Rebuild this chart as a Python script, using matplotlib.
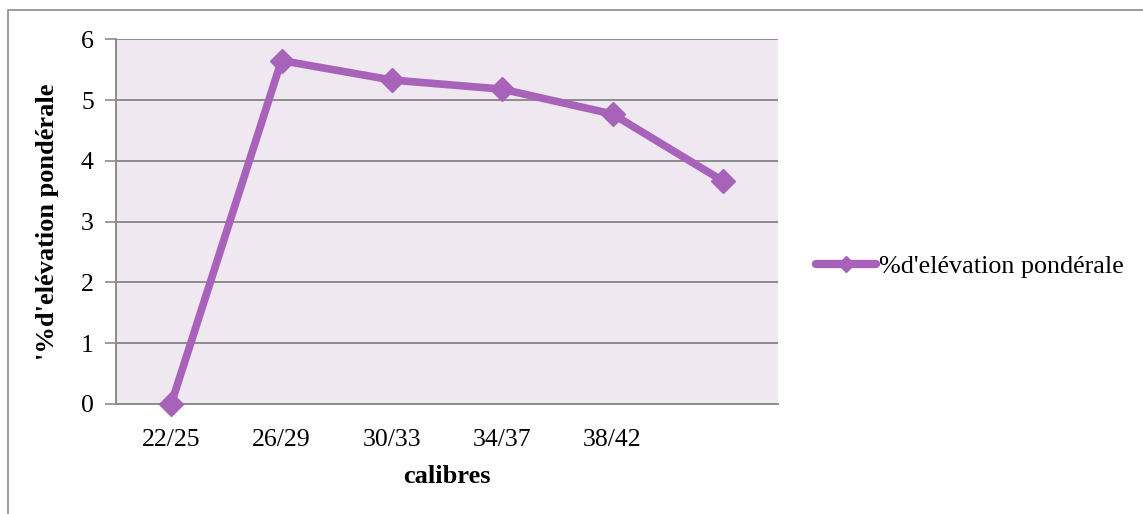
import matplotlib
matplotlib.use("Agg")
import matplotlib.pyplot as plt
from matplotlib.patches import Rectangle
from matplotlib.lines import Line2D

categories = ["22/25", "26/29", "30/33", "34/37", "38/42", ""]
values = [0.0, 5.65, 5.33, 5.18, 4.77, 3.67]
yticks = [0, 1, 2, 3, 4, 5, 6]
series_name = "%d'elévation pondérale"
ylabel = "'%d'elévation pondérale"
xlabel = "calibres"

plt.rcParams['font.family'] = ['Liberation Serif', 'DejaVu Serif']

W, H = 1143, 514
fig = plt.figure(figsize=(W / 100, H / 100), dpi=100)

# outer chart border
fig.add_artist(Rectangle((8 / W, -0.01), 1.2, 1 - 10 / H + 0.01, transform=fig.transFigure,
                         fill=False, edgecolor='#8c8c8c', linewidth=1.2))

ax = fig.add_axes([116 / W, 1 - 404 / H, (778 - 116) / W, (404 - 39.3) / H])
ax.set_facecolor('#EFE8F1')
color = '#A962BA'
x = list(range(len(categories)))
ax.plot(x, values, color=color, linewidth=5.5, marker='D', markersize=12,
        markeredgecolor=color, markerfacecolor=color, solid_joinstyle='miter', zorder=3,
        clip_on=False)
ax.set_xlim(-0.5, len(categories) - 0.5)
ax.set_ylim(0, 6)
ax.set_yticks(yticks)
ax.set_yticklabels([str(v) for v in yticks], fontsize=18.5)
ax.set_xticks(x)
ax.set_xticklabels(categories, fontsize=18.5)
ax.tick_params(axis='x', length=0, pad=18)
ax.tick_params(axis='y', length=8, width=1.2, color='#8c8c8c', pad=8)
ax.grid(axis='y', color='#8c8c8c', linewidth=1.4)
ax.set_axisbelow(True)
for s in ['top', 'right']:
    ax.spines[s].set_visible(False)
for s in ['left', 'bottom']:
    ax.spines[s].set_color('#8c8c8c')
    ax.spines[s].set_linewidth(1.4)

ax.set_xlabel(xlabel, fontsize=19, fontweight='bold', labelpad=10)
ax.set_ylabel(ylabel, fontsize=19, fontweight='bold', labelpad=16)

handle = Line2D([], [], color=color, linewidth=6, marker='D', markersize=8,
                solid_capstyle='round')
fig.legend([handle], [series_name], loc='center left', bbox_to_anchor=(816 / W, 1 - 266 / H),
           frameon=False, fontsize=18.8, handlelength=2.3, handletextpad=0.1, borderaxespad=0,
           borderpad=0)

fig.savefig("out.png", dpi=100)
